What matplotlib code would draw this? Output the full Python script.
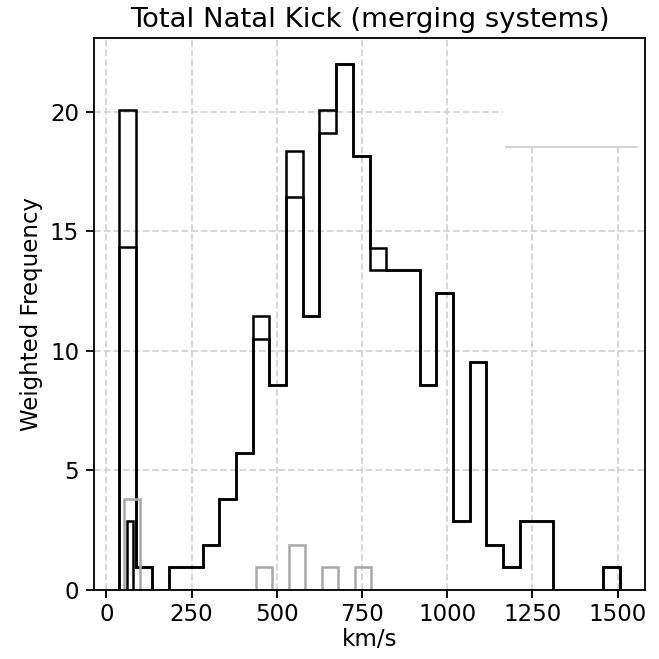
import numpy as np
import matplotlib
matplotlib.use("Agg")
import matplotlib.pyplot as plt
from matplotlib.patches import Rectangle

# bin layout of the full sample (30 bins)
allEdges = np.linspace(37.0, 1507.0, 31)
allHeights = [20.05, 0.96, 0.0, 0.96, 0.96, 1.90, 3.82, 5.74, 11.46, 8.57,
              18.35, 11.46, 20.05, 21.98, 18.14, 14.32, 13.38, 13.38, 8.57, 12.41,
              2.87, 9.55, 1.90, 0.96, 2.87, 2.87, 0.0, 0.0, 0.0, 0.96]

# same bins, subset of systems
subHeights = [14.35, 0.96, 0.0, 0.96, 0.96, 1.90, 3.82, 5.74, 10.51, 8.57,
              16.45, 11.46, 19.10, 21.98, 18.14, 13.38, 13.38, 13.38, 8.57, 12.41,
              2.87, 9.55, 1.90, 0.96, 2.87, 2.87, 0.0, 0.0, 0.0, 0.96]

# second population, own binning
greyEdges = np.linspace(51.0, 777.0, 16)
greyHeights = [3.82, 0, 0, 0, 0, 0, 0, 0, 0.95, 0, 1.90, 0, 0.95, 0, 0.95]

# narrow low-velocity group
lowEdges = [60.7, 78.3]
lowHeights = [2.87]


def stepHist(ax, edges, heights, **kw):
    edges = np.asarray(edges)
    centers = (edges[:-1] + edges[1:]) / 2
    ax.hist(centers, bins=edges, weights=heights, histtype="step", **kw)


def main():
    fig = plt.figure(figsize=(4, 4), dpi=164.75)
    ax = fig.add_axes([0.1426, 0.1047, 0.8362, 0.8376])

    stepHist(ax, allEdges, allHeights, color="black", lw=1.1)
    stepHist(ax, allEdges, subHeights, color="black", lw=1.1)
    stepHist(ax, greyEdges, greyHeights, color="#a8a8a8", lw=1.1)
    stepHist(ax, lowEdges, lowHeights, color="black", lw=1.1)

    ax.grid(True, linestyle="--", color="0.83", lw=0.8)
    ax.set_axisbelow(True)

    # empty key box in the top right corner
    ax.add_patch(Rectangle((0.742, 0.8025), 0.258, 0.1975, transform=ax.transAxes,
                           facecolor="white", edgecolor="none", zorder=1.5))
    ax.plot([0.748, 0.985], [0.8025, 0.8025], transform=ax.transAxes,
            color="0.82", lw=0.8, zorder=1.6)

    ax.set_xticks([0, 250, 500, 750, 1000, 1250, 1500])
    ax.tick_params(axis="x", pad=2)
    ax.tick_params(axis="y", pad=3)
    ax.set_title("Total Natal Kick (merging systems)", pad=5)
    ax.set_xlabel("km/s", labelpad=1)
    ax.set_ylabel("Weighted Frequency", labelpad=3)

    fig.savefig("out.png", dpi=164.75)
    plt.close(fig)


if __name__ == '__main__':
    main()
